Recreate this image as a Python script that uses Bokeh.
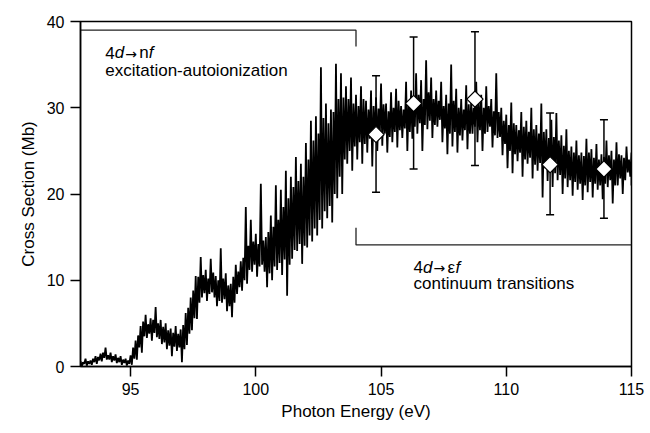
import numpy as np
from bokeh.plotting import figure
from bokeh.models import Range1d, Label, FixedTicker
from bokeh.embed import file_html
from bokeh.resources import INLINE

# ---------------- data ----------------
# spectrum: upper / lower extent of the noisy trace, sampled every 0.1 eV (93.0 ... 115.0 eV)
energy_start = 93.0
energy_step = 0.1
cs_upper = [
    0.6, 0.5, 0.9, 0.6, 0.7, 0.9, 1.2, 1.1, 1.5, 1.6,          # 93
    2.2, 1.3, 1.6, 1.2, 1.4, 1.0, 1.2, 0.8, 0.9, 0.7,          # 94
    1.3, 2.2, 3.0, 3.6, 4.7, 5.2, 6.0, 4.9, 5.6, 5.4,          # 95
    6.9, 5.0, 5.4, 4.6, 5.0, 4.2, 4.4, 3.9, 4.7, 3.8,          # 96
    4.3, 4.8, 6.2, 6.8, 8.0, 8.8, 10.5, 10.4, 12.7, 10.6,      # 97
    11.2, 10.2, 12.5, 10.9, 10.5, 10.0, 13.7, 10.2, 10.8, 9.4, # 98
    9.6, 10.4, 11.8, 11.0, 12.2, 12.6, 18.5, 14.0, 17.0, 14.5, # 99
    15.4, 14.2, 21.2, 14.6, 15.0, 15.6, 17.5, 16.2, 21.0, 17.0, # 100
    20.5, 18.5, 22.7, 19.5, 22.0, 20.8, 24.3, 21.5, 23.5, 22.0, # 101
    25.9, 24.0, 28.5, 26.2, 29.0, 27.0, 34.7, 28.8, 30.5, 28.2, # 102
    29.8, 29.5, 35.1, 31.0, 34.0, 31.2, 32.5, 31.0, 33.5, 30.5, # 103
    31.5, 30.2, 32.5, 31.0, 30.8, 29.8, 32.0, 30.2, 31.2, 29.9, # 104
    32.8, 30.4, 30.5, 29.6, 31.8, 30.0, 32.2, 30.8, 30.2, 29.8, # 105
    33.0, 30.6, 32.0, 31.2, 34.0, 31.5, 33.2, 31.0, 35.5, 31.8, # 106
    33.5, 31.0, 32.0, 30.8, 33.0, 30.2, 31.5, 30.5, 35.0, 30.8, # 107
    32.2, 30.0, 31.0, 29.8, 32.6, 30.4, 30.8, 30.0, 33.0, 30.6, # 108
    31.5, 30.0, 32.5, 30.2, 31.0, 29.6, 34.0, 29.5, 30.0, 28.5, # 109
    29.2, 28.0, 30.6, 28.2, 28.0, 27.4, 29.5, 27.8, 28.5, 27.2, # 110
    30.0, 27.5, 28.0, 27.0, 30.5, 27.2, 27.5, 26.5, 28.6, 26.6, # 111
    29.4, 26.2, 26.8, 25.6, 27.5, 25.0, 25.5, 24.8, 26.2, 24.5, # 112
    24.8, 24.4, 26.4, 24.8, 25.2, 24.2, 25.8, 24.0, 24.6, 24.3, # 113
    26.2, 24.5, 25.0, 24.0, 26.0, 24.6, 24.5, 24.2, 25.5, 24.0, # 114
    24.8,                                                       # 115
]
cs_lower = [
    0.0, 0.3, 0.1, 0.3, 0.2, 0.5, 0.3, 0.7, 0.6, 1.0,          # 93
    0.8, 0.8, 0.5, 0.7, 0.4, 0.5, 0.2, 0.4, 0.1, 0.3,          # 94
    0.2, 0.9, 0.8, 2.2, 1.6, 3.5, 3.3, 3.8, 3.0, 3.9,          # 95
    3.4, 3.2, 2.6, 2.8, 2.0, 2.4, 1.2, 2.3, 1.8, 2.2,          # 96
    0.5, 2.0, 2.5, 3.8, 4.2, 5.6, 5.5, 7.4, 8.0, 8.5,          # 97
    7.6, 8.4, 8.6, 8.0, 7.0, 7.6, 7.4, 7.8, 6.4, 7.0,          # 98
    5.7, 7.4, 8.4, 9.2, 8.8, 10.0, 9.6, 11.2, 11.0, 11.8,      # 99
    10.4, 11.6, 11.8, 11.0, 9.2, 10.8, 10.0, 11.6, 11.2, 12.0, # 100
    10.6, 12.4, 8.2, 11.8, 12.5, 13.5, 13.4, 14.2, 11.9, 14.0, # 101
    13.8, 15.2, 14.5, 16.0, 15.2, 17.0, 16.0, 18.0, 17.2, 18.6, # 102
    16.7, 20.0, 19.5, 22.0, 20.0, 24.0, 23.5, 25.0, 22.7, 25.5, # 103
    24.0, 26.0, 23.5, 25.8, 24.8, 26.4, 23.2, 26.2, 25.0, 26.8, # 104
    25.6, 27.0, 24.8, 26.6, 26.0, 27.2, 25.4, 27.4, 26.5, 27.6, # 105
    25.0, 27.2, 26.4, 27.8, 27.0, 28.2, 25.0, 28.0, 27.5, 28.5, # 106
    26.5, 28.0, 27.8, 28.6, 26.0, 27.6, 24.6, 27.0, 25.5, 27.2, # 107
    24.8, 26.8, 26.2, 27.4, 25.2, 27.0, 27.0, 27.8, 26.0, 27.4, # 108
    25.0, 27.0, 27.2, 27.8, 25.4, 26.8, 26.5, 26.6, 24.5, 25.8, # 109
    23.0, 25.0, 22.4, 24.6, 23.8, 24.8, 22.0, 24.0, 23.5, 24.2, # 110
    21.8, 23.4, 22.7, 23.6, 19.6, 23.0, 21.5, 22.6, 20.8, 22.4, # 111
    21.6, 22.2, 20.0, 21.8, 20.8, 21.6, 19.8, 21.4, 20.5, 21.2, # 112
    19.3, 21.0, 20.2, 21.4, 19.6, 21.2, 20.5, 21.0, 19.4, 21.2, # 113
    20.8, 21.6, 18.9, 21.0, 21.0, 21.8, 20.0, 21.6, 22.5, 22.0, # 114
    21.0,                                                       # 115
]

# measured points with error bars
pt_energy = [104.8, 106.3, 108.75, 111.75, 113.9]
pt_cs = [26.9, 30.5, 31.0, 23.4, 22.9]
pt_err_hi = [33.7, 38.2, 38.8, 29.4, 28.6]
pt_err_lo = [20.2, 22.9, 23.3, 17.6, 17.2]

x_ticks = [95, 100, 105, 110, 115]
y_ticks = [0, 10, 20, 30, 40]

# region brackets (eV, Mb)
bracket_top_x = [93.0, 104.0, 104.0]
bracket_top_y = [39.0, 39.0, 37.1]
bracket_bot_x = [104.0, 104.0, 115.0]
bracket_bot_y = [16.1, 14.1, 14.1]

FONT = "Liberation Sans"

# ---------------- figure ----------------
p = figure(width=650, height=433, output_backend="svg", toolbar_location=None,
           x_range=Range1d(93, 115), y_range=Range1d(0, 40),
           min_border_left=80, min_border_right=19, min_border_top=21,
           min_border_bottom=67)
p.background_fill_color = "white"
p.border_fill_color = "white"
p.outline_line_color = "black"
p.outline_line_width = 1.5
p.grid.visible = False

# spectrum trace: zig-zag between upper and lower readings
n = len(cs_upper)
e = energy_start + energy_step * np.arange(n)
xs = np.empty(2 * n)
ys = np.empty(2 * n)
xs[0::2] = e
xs[1::2] = e + energy_step / 2
ys[0::2] = cs_upper
ys[1::2] = cs_lower
xs = np.clip(xs, 93, 115)
p.line(xs, ys, line_color="black", line_width=1.8)

# brackets
p.line(bracket_top_x, bracket_top_y, line_color="#222222", line_width=1.3)
p.line(bracket_bot_x, bracket_bot_y, line_color="#222222", line_width=1.3)

# error bars
cap = 0.16
pe = np.array(pt_energy)
p.segment(x0=pe, y0=pt_err_lo, x1=pe, y1=pt_err_hi, line_color="black", line_width=1.5)
p.segment(x0=pe - cap, y0=pt_err_hi, x1=pe + cap, y1=pt_err_hi, line_color="black", line_width=1.5)
p.segment(x0=pe - cap, y0=pt_err_lo, x1=pe + cap, y1=pt_err_lo, line_color="black", line_width=1.5)
p.scatter(pt_energy, pt_cs, marker="square", angle=np.pi / 4, size=11.5,
          fill_color="white", line_color="black", line_width=1.2)

# axes
for ax in (p.xaxis[0], p.yaxis[0]):
    ax.axis_line_width = 1.5
    ax.major_tick_line_width = 1.5
    ax.major_tick_out = 10
    ax.major_tick_in = 0
    ax.minor_tick_out = 0
    ax.minor_tick_in = 0
    ax.major_label_text_font = FONT
    ax.major_label_text_font_size = "16px"
    ax.major_label_text_color = "black"
    ax.axis_label_text_font = FONT
    ax.axis_label_text_font_size = "17px"
    ax.axis_label_text_font_style = "normal"
    ax.axis_label_text_color = "black"
    ax.major_label_standoff = 6
p.xaxis.ticker = FixedTicker(ticks=x_ticks)
p.yaxis.ticker = FixedTicker(ticks=y_ticks)
p.xaxis.axis_label = "Photon Energy (eV)"
p.yaxis.axis_label = "Cross Section (Mb)"
p.xaxis.axis_label_standoff = 4
p.yaxis.axis_label_standoff = 6


def add_text(x, y, dx, text, style="normal", size="17px", dy=0, font=FONT):
    p.add_layout(Label(x=x, y=y, x_offset=dx, y_offset=dy, text=text,
                       text_font=font, text_font_size=size,
                       text_font_style=style, text_color="black",
                       text_baseline="middle", text_align="left"))


# upper annotation
ax0, ay0 = 93.99, 36.4
add_text(ax0, ay0, 0, "4")
add_text(ax0, ay0, 9.5, "d", "italic")
add_text(ax0, ay0, 20, "\u2192", size="14px", dy=-1, font="DejaVu Sans")
add_text(ax0, ay0, 34, "n")
add_text(ax0, ay0, 43.5, "f", "italic")
add_text(ax0, 34.3, 0, "excitation-autoionization")

# lower annotation
bx0, by0 = 106.3, 11.5
add_text(bx0, by0, 0, "4")
add_text(bx0, by0, 9.5, "d", "italic")
add_text(bx0, by0, 20, "\u2192", size="14px", dy=-1, font="DejaVu Sans")
add_text(bx0, by0, 34, "\u03b5")
add_text(bx0, by0, 42, "f", "italic")
add_text(bx0, 9.6, 0, "continuum transitions")

open("out.html", "w").write(file_html(p, INLINE))
